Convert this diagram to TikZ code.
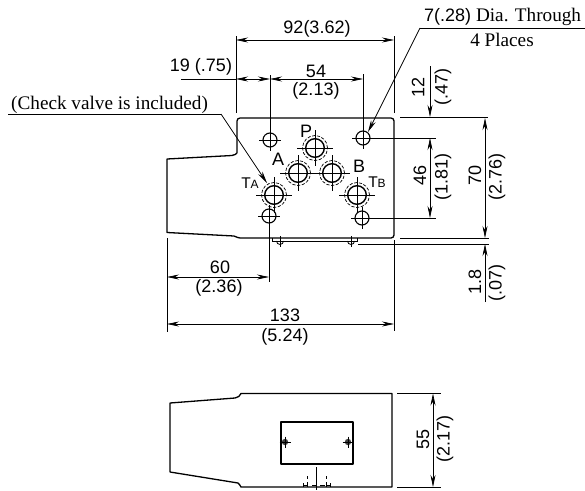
\documentclass[tikz,border=0pt]{standalone}
\usepackage{fontspec}
\setmainfont{Liberation Serif}
\newfontfamily\lsans{Liberation Sans}
\usetikzlibrary{arrows.meta,calc}
\tikzset{
  thick line/.style={line width=1.3pt,line join=round},
  thin line/.style={line width=0.7pt},
  dim/.style={line width=0.7pt,{Stealth[length=12pt,width=5pt]}-{Stealth[length=12pt,width=5pt]}},
  tipend/.style={line width=0.7pt,-{Stealth[length=12pt,width=5pt]}},
  num/.style={inner sep=0pt,font=\lsans\fontsize{18}{20}\selectfont},
  serif/.style={inner sep=0pt,font=\fontsize{19.2}{21}\selectfont},
  port/.style={inner sep=0pt,font=\lsans\fontsize{18}{20}\selectfont},
}
\newcommand{\smallhole}[1]{%
  \draw[line width=1.1pt] (#1) circle (7pt);
  \draw[thin line] ($(#1)+(-11,0)$) -- ($(#1)+(11,0)$) ($(#1)+(0,-11)$) -- ($(#1)+(0,11)$);}
\newcommand{\bighole}[1]{%
  \draw[line width=1.4pt] (#1) circle (9.3pt);
  \draw[line width=0.7pt,dash pattern=on 3.2pt off 1.6pt] (#1) circle (12.5pt);
  \draw[thin line] ($(#1)+(-18,0)$) -- ($(#1)+(18,0)$) ($(#1)+(0,-18)$) -- ($(#1)+(0,18)$);}
\begin{document}
\begin{tikzpicture}[x=1pt,y=-1pt]
\useasboundingbox (0,0) rectangle (585,490);
% front view
\draw[thick line,rounded corners=3pt] (237,153) -- (237,118) -- (394,118) -- (394,238) -- (240,238);
\draw[thick line] (240,238) .. controls (238,238) and (237,237) .. (234,236) -- (167,232.5) -- (167,159) -- (232,155.5) .. controls (235,155) and (236,154) .. (237,153);
% extension lines
\draw[thin line] (236,36) -- (236,113);
\draw[thin line] (394,36) -- (394,113);
\draw[thin line] (270,75) -- (270,151);
\draw[thin line] (363,74) -- (363,149);
\draw[thin line] (363,138) -- (436,138);
\draw[thin line] (352,138) -- (363,138);
\draw[thin line] (362,218) -- (436,218);
\draw[thin line] (269,216) -- (269,282);
\draw[thin line] (400,117) -- (488,117);
\draw[thin line] (400,238) -- (489,238);
\draw[thin line] (358,244) -- (489,244);
\draw[thin line] (167,238) -- (167,332);
\draw[thin line] (394,240) -- (394,331);
% holes
\smallhole{270,140}
\smallhole{363,138}
\smallhole{269,216}
\smallhole{362,218}
\bighole{315,148}
\bighole{298,173}
\bighole{332,173}
\bighole{274,195}
\bighole{357,195}
% gasket plate and screws
\draw[line width=1pt] (272.5,238) -- (272.5,241) -- (357.5,241) -- (357.5,238);
\foreach \sx in {280,351}{
  \draw[line width=0.8pt] (\sx-3.5,241) arc[start angle=180,end angle=0,radius=3.5];
  \draw[thin line] (\sx,236) -- (\sx,247);
}
% dimensions
\draw[dim] (236,40) -- (394,40);
\draw[dim] (236,79) -- (270,79);
\draw[dim] (270,79) -- (363,79);
\draw[thin line] (181,79) -- (236,79);
\draw[tipend] (430,66) -- (430,117);
\draw[dim] (430,138) -- (430,218);
\draw[dim] (485,118) -- (485,238);
\draw[tipend] (485,302) -- (485,244);
\draw[dim] (167,277) -- (269,277);
\draw[dim] (167,324) -- (394,324);
% leaders
\draw[thin line] (8,114) -- (221,114);
\draw[tipend] (221,114) -- (267,183);
\draw[thin line] (420,28) -- (585,28);
\draw[tipend] (420,28) -- (368,132);
% labels
\node[num] (l92) at (317,29) {92(3.62)};
\node[num] (l19) at (201,67) {19 (.75)};
\node[num] (l54) at (316,71) {54};
\node[num] (l213) at (316,91) {(2.13)};
\node[serif,anchor=west] (lcheck) at (11,104.5) {(Check valve is included)};
\node[anchor=west,inner sep=0pt] (ldia) at (424,17) {{\lsans\fontsize{18}{20}\selectfont 7(.28)}{\fontsize{19.2}{21}\selectfont\ Dia. Through}};
\node[serif] (lplaces) at (502,39.5) {4 Places};
\node[num,rotate=90] (l12) at (418,87) {12};
\node[num,rotate=90] (l47) at (443,87) {(.47)};
\node[num,rotate=90] (l46) at (420,175) {46};
\node[num,rotate=90] (l181) at (443,177) {(1.81)};
\node[num,rotate=90] (l70) at (475,175) {70};
\node[num,rotate=90] (l276) at (497,177) {(2.76)};
\node[num,rotate=90] (l18) at (475,282) {1.8};
\node[num,rotate=90] (l07) at (497,283) {(.07)};
\node[num] (l60) at (220,267) {60};
\node[num] (l236) at (219,288) {(2.36)};
\node[num] (l133) at (285,315) {133};
\node[num] (l524) at (285,337) {(5.24)};
\node[port] (lP) at (306,131) {P};
\node[port] (lA) at (278,159) {A};
\node[port] (lB) at (359,166) {B};
\node[port] (lTA) at (250,183) {{\fontsize{15.5}{16}\selectfont T}{\fontsize{12}{14}\selectfont A}};
\node[port] (lTB) at (377,182) {{\fontsize{15.5}{16}\selectfont T}{\fontsize{12}{14}\selectfont B}};
% bottom view
\draw[thick line] (241,393.5) -- (392,393.5) -- (392,487) -- (241,487) .. controls (240,485) and (239,484) .. (238,483) -- (170,472) -- (170,403) -- (235,398) .. controls (238,397.5) and (240,396) .. (241,393.5) -- cycle;
\draw[thick line] (281,422) rectangle (353,464);
\foreach \sx in {285,348}{
  \fill[black!75] (\sx,442) circle (3.2pt);
  \draw[line width=0.8pt] (\sx-5.5,442) -- (\sx+5.5,442) (\sx,436.5) -- (\sx,447.5);
}
\draw[thin line] (316,467) -- (316,490);
\draw[line width=0.7pt] (303,485) -- (307,485) (312,485) -- (316,485) (320,485) -- (325,485) (327,485) -- (330,485);
\draw[line width=0.7pt] (307,476) -- (307,479) (307,482) -- (307,487) (326,476) -- (326,479) (326,482) -- (326,487) (303,483) -- (303,487) (330,483) -- (330,487);
\draw[thin line] (397,393.5) -- (441,393.5);
\draw[thin line] (397,487) -- (441,487);
\draw[dim] (433,393.5) -- (433,487);
\node[num,rotate=90] (l55) at (423,439) {55};
\node[num,rotate=90] (l217) at (445,439) {(2.17)};
\end{tikzpicture}
\end{document}
